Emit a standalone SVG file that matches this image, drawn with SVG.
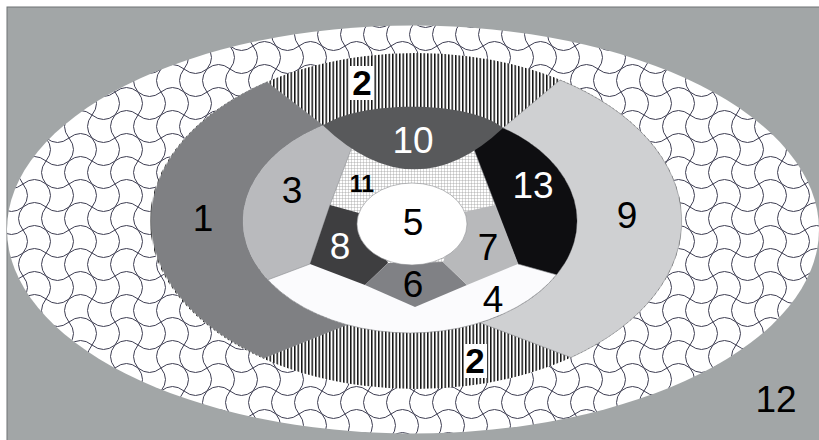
<svg xmlns="http://www.w3.org/2000/svg" width="819" height="440" viewBox="0 0 819 440">
<defs>
<style>
.lbl{font-family:"Liberation Sans",Arial,sans-serif;font-size:37px;text-anchor:middle;fill:#000}
.w{fill:#fff}
.b{font-weight:bold}
.edge{stroke:#8a8b8e;stroke-width:0.6}
</style>
<pattern id="tiles" x="0" y="0" width="46" height="46" patternUnits="userSpaceOnUse">
<rect width="46" height="46" fill="#fff"/>
<g fill="none" stroke="#3e3e52" stroke-width="1">
<path d="M0,0 Q11.5,9 23,0 T46,0"/>
<path d="M0,23 Q11.5,32 23,23 T46,23"/>
<path d="M0,46 Q11.5,55 23,46 T46,46"/>
<path d="M0,0 Q9,11.5 0,23 T0,46"/>
<path d="M23,0 Q32,11.5 23,23 T23,46"/>
<path d="M46,0 Q55,11.5 46,23 T46,46"/>
</g>
</pattern>
<pattern id="stripes" x="0" y="0" width="3.5" height="10" patternUnits="userSpaceOnUse">
<rect width="3.5" height="10" fill="#fff"/>
<rect width="1.5" height="10" fill="#111"/>
</pattern>
<pattern id="grid" x="0" y="0" width="3" height="3" patternUnits="userSpaceOnUse">
<rect width="3" height="3" fill="#fff"/>
<path d="M0,0.25 H3 M0.25,0 V3" stroke="#9a9a9a" stroke-width="0.5"/>
</pattern>
<clipPath id="mid"><ellipse cx="410" cy="221" rx="167" ry="112"/></clipPath>
</defs>

<g id="bg">
<rect x="7" y="7" width="820" height="440" fill="#a2a6a7" stroke="#6f7274" stroke-width="1"/>
</g>

<g id="n12">
<ellipse cx="413" cy="229.5" rx="406" ry="204" fill="url(#tiles)"/>
<text class="lbl" x="776" y="412">12</text>
</g>

<g id="n2">
<ellipse cx="416" cy="221" rx="266" ry="168" fill="url(#stripes)"/>
</g>

<g id="n1">
<path d="M267,82 L323,125.4 A167,112 0 0,0 347,324.7 L264,358 A266,168 0 0,1 267,82 Z" fill="#7f8083" class="edge"/>
<text class="lbl" x="203" y="231">1</text>
</g>

<g id="n9">
<path d="M560,80 L503,128 A167,112 0 0,1 480,322.7 L571,357.5 A266,168 0 0,0 560,80 Z" fill="#cfd0d2" class="edge"/>
<text class="lbl" x="627" y="228">9</text>
</g>

<g id="n4">
<ellipse cx="410" cy="221" rx="167" ry="112" fill="#fbfbfd" class="edge"/>
<text class="lbl" x="493" y="312">4</text>
</g>

<g clip-path="url(#mid)">
<g id="n11">
<polygon points="374,90 352,147 330,205 388,263 443,262 495,205 455,90" fill="url(#grid)"/>
</g>
<g id="n3">
<polygon points="230,90 374,90 352,147 330,205 310,264 230,294" fill="#b9babd" class="edge"/>
</g>
<g id="n13">
<polygon points="455,90 473,147 518,264 600,287 600,90" fill="#0e0e11" class="edge"/>
</g>
<g id="n8">
<polygon points="330,205 310,264 365,285 388,263 359,213" fill="#3e3e40"/>
</g>
<g id="n6">
<polygon points="365,285 415,307 467,285 443,262 388,263" fill="#808185"/>
</g>
<g id="n7">
<polygon points="467,285 518,264 495,205 464,212 443,262" fill="#b8b9bb"/>
</g>
</g>

<g id="n5">
<ellipse cx="412" cy="224" rx="55" ry="41" fill="#fff" class="edge"/>
<text class="lbl" x="413" y="235">5</text>
</g>

<g id="n10">
<path d="M323,125.4 C360,100 470,100 503,128 Q414,212 323,125.4 Z" fill="#58595b"/>
<text class="lbl w" x="413" y="153">10</text>
</g>

<g id="labels">
<text class="lbl" x="292" y="203">3</text>
<text class="lbl b" x="362" y="192" style="font-size:23px">11</text>
<text class="lbl w" x="533" y="198">13</text>
<text class="lbl w" x="340" y="259">8</text>
<text class="lbl" x="488" y="260">7</text>
<text class="lbl" x="413" y="297">6</text>
</g>

<g id="n2labels">
<rect x="350" y="66" width="24" height="34" fill="#fff"/>
<text class="lbl b" x="362" y="95" style="font-size:35px">2</text>
<rect x="464" y="344" width="23" height="34" fill="#fff"/>
<text class="lbl b" x="475" y="373" style="font-size:35px">2</text>
</g>
</svg>
